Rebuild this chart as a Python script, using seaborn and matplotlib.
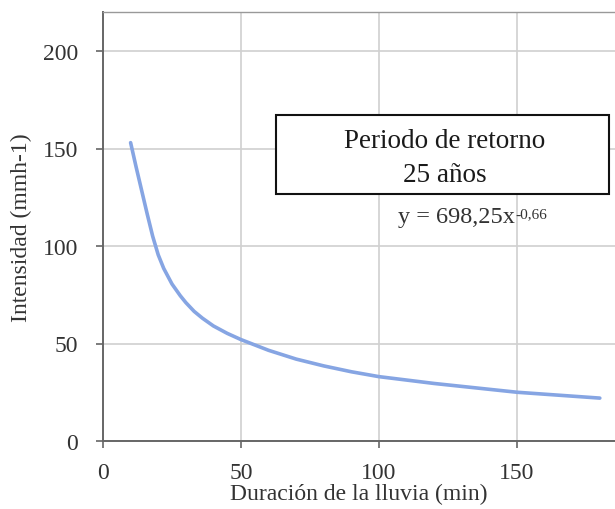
import matplotlib
matplotlib.use("Agg")
import matplotlib.pyplot as plt
from matplotlib.patches import Rectangle
import seaborn as sns
import pandas as pd

duracion = [10, 12, 14, 16, 18, 20, 22, 25, 28, 30, 33, 36, 40, 45, 50, 60, 70, 80, 90, 100, 120, 140, 150, 160, 170, 180]
intensidad = [153, 140.5, 128.5, 116.5, 105, 95.5, 88.5, 80.5, 74.5, 71, 66.5, 63, 59, 55.2, 52, 46.5, 42, 38.5, 35.5, 33, 29.5, 26.5, 25, 24, 23, 22]
xticks = [0, 50, 100, 150]
yticks = [0, 50, 100, 150, 200]

df = pd.DataFrame({"x": duracion, "y": intensidad})

sns.set_theme(style="white")
plt.rcParams['font.family'] = ['Liberation Serif', 'DejaVu Serif']

fig = plt.figure(figsize=(6.15, 5.10), dpi=100)
ax = fig.add_axes([103/615, 1 - 442/510, (615 - 103)/615, (442 - 13)/510])

sns.lineplot(data=df, x="x", y="y", ax=ax, color="#86a5e3", linewidth=2.6)

ax.set_xlim(0, 185.5)
ax.set_ylim(0, 220)
ax.set_xticks(xticks)
ax.set_yticks(yticks)
ax.grid(True, color="#d0d0d0", linewidth=1.2)
ax.set_axisbelow(True)
for s in ["left", "bottom"]:
    ax.spines[s].set_color("#666666")
    ax.spines[s].set_linewidth(1.4)
ax.spines["top"].set_color("#999999")
ax.spines["top"].set_linewidth(1.0)
ax.spines["right"].set_visible(False)
ax.tick_params(axis="both", direction="out", length=5, width=1.2, color="#666666",
               labelsize=17, labelcolor="#333333", bottom=True, left=True)
ax.tick_params(axis="y", pad=13)
ax.tick_params(axis="x", pad=10)
ax.set_xlabel("Duración de la lluvia (min)", fontsize=17, color="#333333", labelpad=0)
ax.set_ylabel("Intensidad (mmh-1)", fontsize=17, color="#333333")
ax.yaxis.set_label_coords((32 - 103)/512, 0.5)

fig.patches.append(Rectangle((276/615, 1 - 195/510), (609 - 276)/615, (195 - 116)/510,
                             transform=fig.transFigure, facecolor="white",
                             edgecolor="#111111", linewidth=1.5, zorder=5))
fig.text(445/615, 1 - 141/510, "Periodo de retorno", ha="center", va="center",
         fontsize=19.5, color="#1a1a1a", zorder=6)
fig.text(445/615, 1 - 175/510, "25 años", ha="center", va="center",
         fontsize=19.5, color="#1a1a1a", zorder=6)
t1 = fig.text(398/615, 1 - 218/510, "y = 698,25x",
              ha="left", va="center", fontsize=17.5, color="#333333", zorder=6)
ax.annotate("-0,66", xy=(1.0, 0.98), xycoords=t1, ha="left", va="top",
            fontsize=11, color="#333333", annotation_clip=False, zorder=6)

fig.savefig("out.png", dpi=100)
